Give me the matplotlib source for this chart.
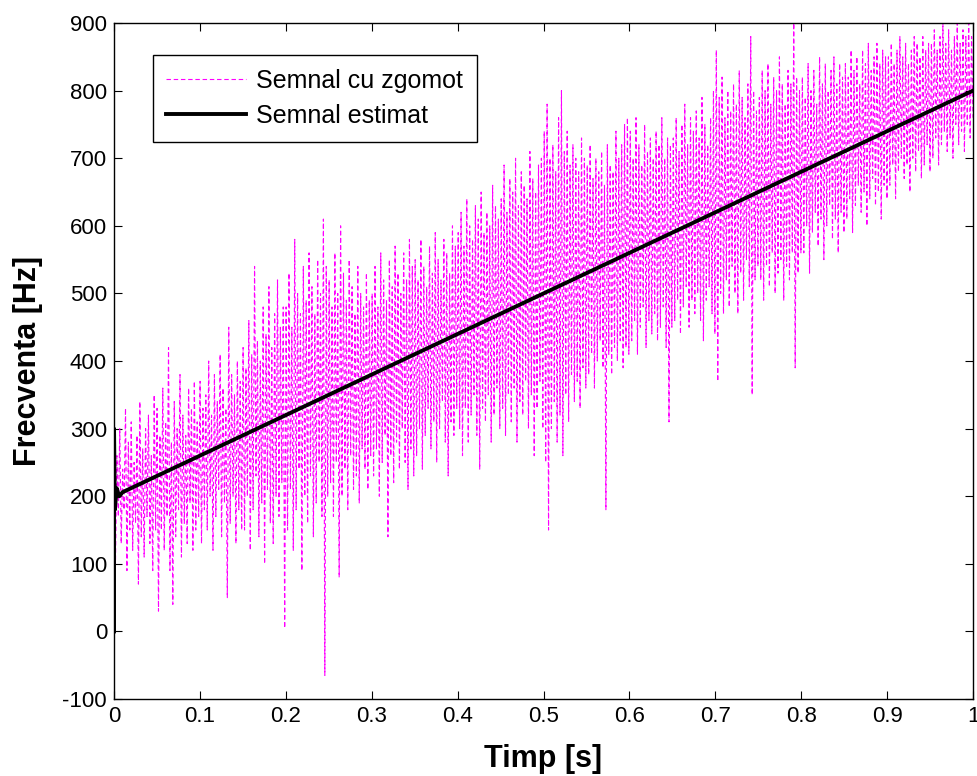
import numpy as np
import matplotlib
matplotlib.use("Agg")
import matplotlib.pyplot as plt

plt.rcParams['font.family'] = ['Liberation Sans', 'DejaVu Sans']
plt.rcParams['axes.unicode_minus'] = False

# noisy frequency estimate: alternating peaks / troughs (Hz)
# 15 pairs per 0.05 s
peaks = [340, 260, 300, 240, 330, 280, 310, 250, 290, 340, 270, 300, 320, 260, 350,
         330, 290, 360, 310, 420, 280, 340, 300, 380, 320, 290, 360, 330, 370, 310,
         370, 330, 350, 400, 320, 380, 340, 410, 360, 330, 450, 380, 350, 400, 370,
         420, 390, 460, 410, 540, 430, 400, 480, 440, 510, 420, 470, 520, 450, 480,
         480, 530, 450, 580, 500, 470, 540, 490, 560, 510, 470, 550, 500, 610, 540,
         520, 480, 560, 500, 600, 530, 490, 550, 510, 470, 540, 500, 480, 530, 490,
         500, 540, 480, 560, 520, 490, 550, 510, 570, 530, 500, 560, 520, 580, 540,
         550, 520, 580, 540, 510, 570, 530, 590, 550, 520, 580, 560, 530, 600, 570,
         590, 620, 570, 640, 600, 580, 630, 610, 650, 590, 620, 600, 660, 630, 610,
         640, 690, 620, 670, 650, 700, 630, 680, 660, 640, 710, 670, 650, 690, 700,
         740, 780, 700, 720, 680, 760, 800, 710, 740, 690, 720, 700, 680, 730, 700,
         690, 720, 670, 700, 680, 710, 660, 720, 690, 680, 740, 700, 720, 750, 760,
         740, 700, 760, 720, 690, 750, 710, 730, 700, 740, 720, 760, 700, 730, 720,
         730, 760, 710, 750, 780, 720, 760, 740, 770, 730, 790, 750, 720, 760, 800,
         860, 790, 820, 760, 800, 770, 810, 780, 830, 790, 760, 810, 880, 800, 770,
         790, 830, 800, 840, 780, 820, 800, 850, 810, 780, 830, 810, 900, 820, 800,
         820, 790, 840, 800, 830, 780, 850, 810, 840, 800, 830, 850, 810, 840, 820,
         840, 820, 860, 830, 850, 810, 860, 840, 870, 830, 850, 870, 840, 860, 850,
         850, 870, 840, 860, 880, 850, 870, 840, 860, 880, 870, 850, 880, 860, 870,
         870, 890, 860, 880, 900, 870, 890, 860, 880, 900, 870, 890, 880, 900, 880]
troughs = [100, 170, 130, 180, 90, 150, 120, 160, 70, 140, 110, 170, 130, 90, 150,
           30, 150, 120, 170, 90, 40, 140, 180, 110, 160, 130, 190, 120, 150, 170,
           130, 180, 150, 200, 120, 170, 210, 140, 190, 50, 160, 200, 130, 180, 150,
           150, 200, 120, 180, 230, 140, 190, 100, 210, 160, 130, 200, 170, 220, 5,
           150, 210, 120, 180, 240, 90, 200, 160, 230, 140, 190, 250, 170, -65, 200,
           220, 170, 250, 80, 200, 240, 180, 260, 210, 230, 190, 270, 240, 210, 260,
           230, 270, 200, 250, 290, 140, 260, 220, 280, 240, 300, 250, 210, 270, 230,
           260, 300, 240, 290, 330, 270, 310, 250, 300, 340, 280, 230, 310, 290, 330,
           300, 260, 330, 280, 320, 350, 290, 240, 330, 310, 350, 280, 320, 360, 300,
           330, 290, 350, 310, 360, 280, 340, 320, 370, 300, 350, 260, 330, 370, 300,
           250, 150, 300, 340, 280, 320, 260, 350, 310, 380, 340, 370, 330, 390, 360,
           380, 410, 360, 400, 430, 390, 180, 410, 380, 420, 400, 430, 390, 420, 410,
           430, 460, 410, 450, 480, 420, 460, 440, 470, 430, 450, 480, 420, 310, 450,
           460, 490, 440, 480, 510, 450, 490, 470, 500, 460, 430, 490, 510, 470, 440,
           370, 500, 470, 520, 480, 540, 500, 470, 530, 490, 550, 510, 350, 520, 540,
           520, 490, 540, 510, 560, 500, 530, 550, 490, 540, 520, 560, 390, 530, 560,
           560, 600, 530, 590, 620, 570, 610, 550, 600, 630, 580, 610, 560, 620, 590,
           610, 640, 590, 630, 660, 620, 650, 600, 640, 670, 630, 650, 610, 660, 640,
           660, 690, 640, 680, 700, 670, 690, 650, 700, 680, 710, 670, 690, 720, 680,
           700, 730, 690, 720, 740, 710, 730, 700, 750, 720, 740, 710, 750, 730, 760]

# estimated signal
t_est = [0.0, 0.0, 0.001, 0.003, 0.006, 0.01, 0.1, 0.2, 0.3, 0.4, 0.5, 0.6, 0.7, 0.8, 0.9, 1.0]
f_est = [0, 300, 180, 212, 200, 206, 260, 320, 380, 440, 500, 560, 620, 680, 740, 800]

noisy = np.empty(2 * len(peaks))
noisy[0::2] = peaks
noisy[1::2] = troughs
t = np.linspace(0, 1, len(noisy))

fig = plt.figure(figsize=(9.78, 7.76), dpi=100)
ax = fig.add_axes([0.1166, 0.0992, 0.8783, 0.8711])

ax.plot(t, noisy, color='#ff00ff', linestyle='--', linewidth=0.8, dashes=(4, 2.5),
        label='Semnal cu zgomot')
ax.plot(t_est, f_est, color='black', linewidth=2.8, label='Semnal estimat')

ax.set_xlim(0, 1)
ax.set_ylim(-100, 900)
ax.set_xticks(np.arange(0, 1.01, 0.1))
ax.set_xticklabels(['0', '0.1', '0.2', '0.3', '0.4', '0.5', '0.6', '0.7', '0.8', '0.9', '1'])
ax.set_yticks(np.arange(-100, 901, 100))
ax.tick_params(direction='in', top=True, right=True, length=6, width=0.8,
               labelsize=16, pad=5)
for s in ax.spines.values():
    s.set_linewidth(1.0)

ax.set_xlabel('Timp [s]', fontsize=22, fontweight='bold', labelpad=12)
ax.set_ylabel('Frecventa [Hz]', fontsize=22, fontweight='bold', labelpad=14)

leg = ax.legend(loc='upper left', bbox_to_anchor=(0.045, 0.953), fontsize=18,
                fancybox=False, framealpha=1, edgecolor='black', handlelength=3.2,
                handletextpad=0.4, borderpad=0.55, labelspacing=0.45, borderaxespad=0)
leg.get_frame().set_linewidth(1.0)

fig.savefig('out.png', dpi=100)
